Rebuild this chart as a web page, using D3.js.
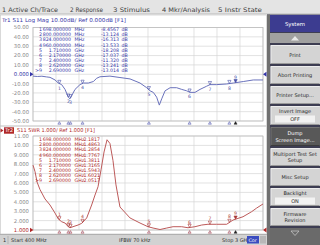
<!DOCTYPE html>
<html><head><meta charset="utf-8">
<script src="https://cdn.jsdelivr.net/npm/d3@7"></script>
<style>
html,body{margin:0;padding:0;background:#fff;overflow:hidden;}
svg{display:block;font-family:"DejaVu Sans",sans-serif;}
</style></head><body>
<svg id="c" width="320" height="245"></svg>
<script>
// ---------- data ----------
const menuItems = ["1 Active Ch/Trace","2 Response","3 Stimulus","4 Mkr/Analysis","5 Instr State"];
const trace1Title = "Tr1 S11 Log Mag 10.00dB/ Ref 0.000dB [F1]";
const trace2Title = "S11 SWR 1.000/ Ref 1.000 [F1]";
const s11Freq = [400,450,500,550,592,649,686,724,762,799,818,837,875,931,969,1025,1082,1120,1157,1270,1383,1497,1610,1685,1723,1760,1798,1828,1855,1893,1950,2024,2081,2137,2175,2231,2288,2363,2401,2476,2589,2664,2777,2890,3000];
const s11dB   = [-2.0,-2.4,-2.1,-2.8,-3.3,-6.1,-9.4,-11.1,-16.2,-24.5,-26.3,-22.9,-16.2,-11.1,-9.4,-9.4,-7.8,-4.3,-2.7,-2.0,-3.5,-5.0,-9.4,-14.4,-17.7,-19.4,-24.5,-33.0,-26.3,-17.7,-14.4,-14.4,-16.2,-17.7,-19.4,-19.4,-16.2,-12.8,-11.1,-11.1,-10.4,-9.4,-7.8,-6.1,-6.1];
const swrFreq = [400,423,446,479,536,592,649,686,724,762,799,818,852,909,951,1007,1063,1101,1135,1169,1203,1237,1270,1304,1338,1383,1497,1610,1700,1757,1836,1912,1983,2081,2152,2231,2307,2378,2476,2589,2661,2774,2872,2929,3000];
const swrVal  = [7.9,7.2,6.1,5.3,4.3,3.66,2.8,2.17,1.88,1.74,1.35,1.24,1.35,1.53,1.71,2.28,3.66,4.72,5.6,7.4,9.3,10.6,10.2,8.4,5.8,3.45,2.28,1.74,1.35,1.21,1.05,1.21,1.35,1.35,1.24,1.35,1.53,1.61,1.61,1.61,2.06,2.41,2.95,3.34,3.77];
const markerFreq = [698,800,824,960,1710,2170,2400,2620,2690];
const markerFreqText = ["698.000000","800.000000","824.000000","960.000000","1.710000","2.170000","2.400000","2.620000","2.690000"];
const markerUnit = ["MHz","MHz","MHz","MHz","GHz","GHz","GHz","GHz","GHz"];
const markerdB = ["-8.4567","-13.124","-16.313","-13.533","-18.208","-17.037","-11.320","-13.241","-13.014"];
const markerSWR = ["2.1817","1.4863","1.2854","1.7767","1.3811","1.3165","1.5943","1.6021","2.0517"];
const dbTicks = [50,40,30,20,10,0,-10,-20,-30,-40,-50];
const dbTickLabels = ["50.00","40.00","30.00","20.00","10.00","0.000","-10.00","-20.00","-30.00","-40.00","-50.00"];
const swrTicks = [11,10,9,8,7,6,5,4,3,2,1];
const swrTickLabels = ["11.00","10.00","9.000","8.000","7.000","6.000","5.000","4.000","3.000","2.000","1.000"];
const freqGrid = [400,660,920,1180,1440,1700,1960,2220,2480,2740,3000];
const statusTexts = ["1","Start 400 MHz","IFBW 70 kHz","Stop 3 GHz","Cor"];
const softkeyTitle = "System";
const softkeys = [["Print"],["Abort Printing"],["Printer Setup..."],["Invert Image","OFF"],["Dump","Screen Image..."],["Multiport Test Set","Setup"],["Misc Setup"],["Backlight","ON"],["Firmware","Revision"]];

// ---------- drawing ----------
const svg = d3.select("#c");
const FS = 5.3;
const blue = "#3636a8", red = "#b02828";
const x = d3.scaleLinear().domain([400,3000]).range([33,263]);
const y1 = d3.scaleLinear().domain([-50,50]).range([121,27.5]);
const y2 = d3.scaleLinear().domain([1,11]).range([230,136]);

svg.append("rect").attr("width",320).attr("height",245).attr("fill","#ffffff");

// menu bar
svg.append("rect").attr("x",0).attr("y",0).attr("width",320).attr("height",14).attr("fill","#e4e4e4");
svg.append("line").attr("x1",0).attr("x2",320).attr("y1",14).attr("y2",14).attr("stroke","#a0a0a0").attr("stroke-width",0.6);
const menuX = [2,70,113,162,218], menuW = [56,33,37,48,44];
svg.selectAll("text.menu").data(menuItems).enter().append("text")
  .attr("x",(d,i)=>menuX[i]).attr("y",11.5).attr("font-size",6.2).attr("fill","#404040")
  .attr("textLength",(d,i)=>menuW[i]).attr("lengthAdjust","spacingAndGlyphs").text(d=>d);

// window frames
svg.append("rect").attr("x",0.5).attr("y",15).attr("width",266).attr("height",111).attr("fill","none").attr("stroke","#c0c0c0").attr("stroke-width",0.6);
svg.append("rect").attr("x",0.5).attr("y",126).attr("width",266).attr("height",108).attr("fill","none").attr("stroke","#c0c0c0").attr("stroke-width",0.6);

function grid(yScale, ticks){
  const g = svg.append("g");
  g.selectAll("line.h").data(ticks).enter().append("line")
    .attr("x1",x(400)).attr("x2",x(3000)).attr("y1",d=>yScale(d)).attr("y2",d=>yScale(d))
    .attr("stroke","#d6d6d6").attr("stroke-width",0.7);
  g.selectAll("line.v").data(freqGrid).enter().append("line")
    .attr("x1",d=>x(d)).attr("x2",d=>x(d)).attr("y1",yScale(ticks[0])).attr("y2",yScale(ticks[ticks.length-1]))
    .attr("stroke","#d6d6d6").attr("stroke-width",0.7);
  g.append("rect").attr("x",x(400)).attr("y",yScale(ticks[0])).attr("width",x(3000)-x(400))
    .attr("height",yScale(ticks[ticks.length-1])-yScale(ticks[0])).attr("fill","none").attr("stroke","#b8b8b8").attr("stroke-width",0.7);
}
grid(y1, dbTicks);
grid(y2, swrTicks);

// axis labels
svg.selectAll("text.yl1").data(dbTicks).enter().append("text")
  .attr("x",29).attr("y",d=>y1(d)+1.9).attr("text-anchor","end").attr("font-size",FS)
  .attr("fill",d=>d===0?blue:"#8a8a8a").text((d,i)=>dbTickLabels[i]);
svg.selectAll("text.yl2").data(swrTicks).enter().append("text")
  .attr("x",29).attr("y",d=>y2(d)+1.9).attr("text-anchor","end").attr("font-size",FS)
  .attr("fill",d=>d===1?red:"#8a8a8a").text((d,i)=>swrTickLabels[i]);
// reference arrows
function refArrow(yv,col){
  svg.append("path").attr("d",`M30,${yv-2.2}L33.5,${yv}L30,${yv+2.2}Z`).attr("fill",col);
  svg.append("path").attr("d",`M266.5,${yv-2.5}L263,${yv}L266.5,${yv+2.5}Z`).attr("fill",col);
}
refArrow(y1(0),blue);
refArrow(y2(1),red);

// titles
svg.append("text").attr("x",2).attr("y",21.5).attr("font-size",FS).attr("fill",blue)
  .attr("textLength",124).attr("lengthAdjust","spacingAndGlyphs").text(trace1Title);
svg.append("path").attr("d","M0.5,128.5L3.5,130.5L0.5,132.5Z").attr("fill",red);
svg.append("rect").attr("x",4).attr("y",127.3).attr("width",10).attr("height",6.4).attr("fill",red);
svg.append("text").attr("x",5).attr("y",132.3).attr("font-size",FS).attr("fill","#fff").text("Tr2");
svg.append("text").attr("x",17).attr("y",132.3).attr("font-size",FS).attr("fill",red)
  .attr("textLength",78).attr("lengthAdjust","spacingAndGlyphs").text(trace2Title);

// traces
const pts1 = s11Freq.map((f,i)=>[f,s11dB[i]]);
const pts2 = swrFreq.map((f,i)=>[f,swrVal[i]]);
svg.append("path").datum(pts1).attr("fill","none").attr("stroke","#6a72bc").attr("stroke-width",1)
  .attr("d",d3.line().x(d=>x(d[0])).y(d=>y1(d[1])));
svg.append("path").datum(pts2).attr("fill","none").attr("stroke","#bd5a5a").attr("stroke-width",1)
  .attr("d",d3.line().x(d=>x(d[0])).y(d=>y2(d[1])));

function interp(fs, vs, f){
  for(let i=1;i<fs.length;i++){ if(f<=fs[i]){ const t=(f-fs[i-1])/(fs[i]-fs[i-1]); return vs[i-1]+t*(vs[i]-vs[i-1]); } }
  return vs[vs.length-1];
}
// markers
function markers(fs, vs, yScale, col, below, axisY){
  markerFreq.forEach((mf,i)=>{
    const mx = x(mf), my = yScale(interp(fs,vs,mf));
    svg.append("path").attr("d",`M${mx-1.6},${my-3.2}L${mx+1.6},${my-3.2}L${mx},${my}Z`)
      .attr("fill",i===8?col:"none").attr("stroke",col).attr("stroke-width",0.6);
    const up = !below || i===8;
    svg.append("text").attr("x",mx).attr("y",up?my-4:my+6).attr("text-anchor","middle")
      .attr("font-size",4.6).attr("fill",col).text(i+1);
    svg.append("path").attr("d",`M${mx-1.5},${axisY+2.6}L${mx+1.5},${axisY+2.6}L${mx},${axisY}Z`)
      .attr("fill",i===8?"#222":"#d8d8f0").attr("stroke",i===8?"#222":col).attr("stroke-width",0.5);
  });
}
markers(s11Freq,s11dB,y1,"#4a52a8",true,121.6);
markers(swrFreq,swrVal,y2,"#a83838",false,230.6);

// marker tables
function table(y0, vals, col, unit){
  const g = svg.append("g").attr("font-size",4.7).attr("fill",col);
  markerFreq.forEach((f,i)=>{
    const yy = y0 + i*5.1;
    g.append("text").attr("x",42).attr("y",yy).attr("text-anchor","end").text((i===8?">":"")+(i+1));
    g.append("text").attr("x",71).attr("y",yy).attr("text-anchor","end").text(markerFreqText[i]);
    g.append("text").attr("x",74.5).attr("y",yy).text(markerUnit[i]);
    g.append("text").attr("x",unit?119:100).attr("y",yy).attr("text-anchor","end").text(vals[i]);
    if(unit) g.append("text").attr("x",121.5).attr("y",yy).text(unit);
  });
}
table(31.2, markerdB, blue, "dB");
table(141.2, markerSWR, red, "");

// status bar
svg.append("rect").attr("x",0).attr("y",234.5).attr("width",268).attr("height",10.5).attr("fill","#d2d2d2");
svg.append("line").attr("x1",0).attr("x2",268).attr("y1",234.5).attr("y2",234.5).attr("stroke","#909090").attr("stroke-width",0.6);
const st = svg.append("g").attr("font-size",5).attr("fill","#303030");
st.append("text").attr("x",3).attr("y",241.5).text(statusTexts[0]);
st.append("line").attr("x1",8).attr("x2",8).attr("y1",236).attr("y2",244).attr("stroke","#909090").attr("stroke-width",0.5);
st.append("text").attr("x",11).attr("y",241.5).text(statusTexts[1]);
st.append("text").attr("x",119).attr("y",241.5).text(statusTexts[2]);
st.append("text").attr("x",222).attr("y",241.5).text(statusTexts[3]);
st.append("rect").attr("x",247).attr("y",236).attr("width",12).attr("height",7.5).attr("fill","#3a4cc0");
st.append("text").attr("x",248.5).attr("y",241.8).attr("fill","#fff").attr("font-size",4.8).text(statusTexts[4]);
st.append("rect").attr("x",260).attr("y",236).attr("width",6).attr("height",7.5).attr("fill","#b8b8b8");

// softkey panel
svg.append("rect").attr("x",267).attr("y",14.5).attr("width",53).attr("height",231).attr("fill","#3d3d52");
svg.append("rect").attr("x",267).attr("y",14.5).attr("width",3).attr("height",231).attr("fill","#707070");
svg.append("rect").attr("x",270).attr("y",15).attr("width",50).attr("height",17).attr("fill","#3c3c90");
svg.append("text").attr("x",295).attr("y",25.5).attr("text-anchor","middle").attr("font-size",5.4).attr("fill","#fff").text(softkeyTitle);
svg.append("rect").attr("x",270).attr("y",33).attr("width",50).attr("height",10).attr("fill","#a0a0a0");
svg.append("path").attr("d","M291,40.5L299,40.5L295,36Z").attr("fill","#e8e8e8");
const keyY = [[45,64],[66,84],[86,104],[106,125],[127,146],[148,166],[168,186],[188,206],[208,226]];
softkeys.forEach((lines,i)=>{
  const [a,b] = keyY[i];
  const dark = i===4;
  const g = svg.append("g");
  g.append("rect").attr("x",270.5).attr("y",a).attr("width",49.5).attr("height",b-a).attr("fill",dark?"#585858":"#d4d4d4");
  g.append("path").attr("d",`M271,${b-0.5}L271,${a+0.5}L319.5,${a+0.5}`).attr("fill","none").attr("stroke",dark?"#7a7a7a":"#f4f4f4").attr("stroke-width",0.8);
  g.append("path").attr("d",`M271,${b-0.5}L319.5,${b-0.5}`).attr("fill","none").attr("stroke",dark?"#333":"#8a8a8a").attr("stroke-width",0.8);
  const col = dark?"#ffffff":"#2a2a2a";
  const isVal = lines.length===2 && (lines[1]==="OFF"||lines[1]==="ON");
  if(lines.length===1){
    g.append("text").attr("x",295).attr("y",(a+b)/2+2).attr("text-anchor","middle").attr("font-size",5).attr("fill",col).text(lines[0]);
  } else if(isVal){
    g.append("text").attr("x",295).attr("y",a+7).attr("text-anchor","middle").attr("font-size",5).attr("fill",col).text(lines[0]);
    g.append("rect").attr("x",275).attr("y",a+9.5).attr("width",40).attr("height",7).attr("fill","#f2f2f2");
    g.append("text").attr("x",295).attr("y",a+15).attr("text-anchor","middle").attr("font-size",5).attr("fill",col).text(lines[1]);
  } else {
    g.append("text").attr("x",295).attr("y",(a+b)/2-1.2).attr("text-anchor","middle").attr("font-size",5).attr("fill",col).text(lines[0]);
    g.append("text").attr("x",295).attr("y",(a+b)/2+5.2).attr("text-anchor","middle").attr("font-size",5).attr("fill",col).text(lines[1]);
  }
});
svg.append("rect").attr("x",270).attr("y",228).attr("width",50).attr("height",17).attr("fill","#6a6a6a");
svg.append("path").attr("d","M291,231L299,231L295,235.5Z").attr("fill","none").attr("stroke","#cfcfcf").attr("stroke-width",0.7);
</script>
</body></html>
